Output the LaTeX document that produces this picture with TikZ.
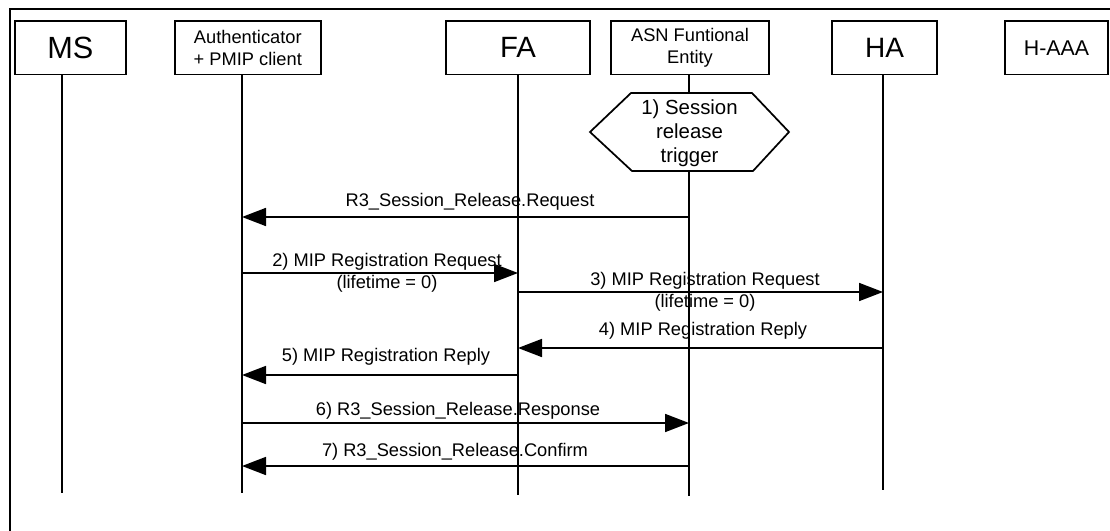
\documentclass[tikz,border=0pt]{standalone}
\usepackage{fontspec}
\setmainfont{Liberation Sans}
\usetikzlibrary{arrows.meta}
\begin{document}
\begin{tikzpicture}[x=0.75pt,y=-0.75pt, line width=1.3pt,
  box/.style={draw, inner sep=0pt, outer sep=0pt, minimum height=40pt, align=center},
  small/.style={font=\fontsize{13.7pt}{16.5pt}\selectfont},
  lbl/.style={font=\fontsize{13.7pt}{16.5pt}\selectfont, inner sep=0pt, anchor=base},
  lbl2/.style={font=\fontsize{13.7pt}{16.5pt}\selectfont, inner sep=0pt, align=center},
  msg/.style={-{Triangle[length=18pt,width=13.5pt]}}]
\useasboundingbox (0,0) rectangle (1110,531);
% frame
\coordinate (frTR) at (1112,9);
\coordinate (frTL) at (10,9);
\coordinate (frBL) at (10,533);
\draw (frTR) -- (frTL) -- (frBL);
% entity boxes
\node[box, minimum width=83pt, font=\fontsize{23pt}{27pt}\selectfont] (ms) at (70.3,47.75) {MS};
\node[box, small, minimum width=109.3pt] (auth) at (247.8,47.75) {Authenticator\\+ PMIP client};
\node[box, minimum width=108pt, font=\fontsize{22pt}{26pt}\selectfont] (fa) at (518,47.75) {FA};
\node[box, small, minimum width=118.5pt] (asn) at (690,47.75) {ASN Funtional\\Entity};
\node[box, minimum width=78.75pt, font=\fontsize{21pt}{25pt}\selectfont] (ha) at (884.5,47.75) {HA};
\node[box, minimum width=77.25pt, font=\fontsize{16pt}{19pt}\selectfont] (haaa) at (1056.5,47.75) {H-AAA};
% lifeline ends
\coordinate (msE) at (62,493);
\coordinate (authE) at (242,493);
\coordinate (faE) at (518,495);
\coordinate (asnE) at (689,496);
\coordinate (haE) at (883,490);
% hexagon
\coordinate (hxT) at (689,93);
\coordinate (hxB) at (689,171);
\draw (590,132) -- (631,93) -- (752,93) -- (789,132) -- (753,171) -- (632,171) -- cycle;
\node[font=\fontsize{15.3pt}{18pt}\selectfont, align=center, inner sep=0pt] (trig) at (689.5,133.6) {1) Session\\release\\trigger};
% lifelines
\draw (ms.south -| msE) -- (msE);
\draw (auth.south -| authE) -- (authE);
\draw (fa.south -| faE) -- (faE);
\draw (asn.south -| hxT) -- (hxT);
\draw (hxB) -- (asnE);
\draw (ha.south -| haE) -- (haE);
% message levels
\coordinate (y1) at (0,217);
\coordinate (y2) at (0,273);
\coordinate (y3) at (0,292);
\coordinate (y4) at (0,348);
\coordinate (y5) at (0,375);
\coordinate (y6) at (0,423);
\coordinate (y7) at (0,466);
% messages
\draw[msg] (asnE |- y1) -- (authE |- y1);
\draw[msg] (authE |- y2) -- (faE |- y2);
\draw[msg] (faE |- y3) -- (haE |- y3);
\draw[msg] (haE |- y4) -- (faE |- y4);
\draw[msg] (faE |- y5) -- (authE |- y5);
\draw[msg] (authE |- y6) -- (asnE |- y6);
\draw[msg] (asnE |- y7) -- (authE |- y7);
% labels
\node[lbl] (l1) at (470,207) {R3\_Session\_Release.Request};
\node[lbl2] (l2) at (387,273.2) {2) MIP Registration Request\\(lifetime = 0)};
\node[lbl2] (l3) at (705,292.2) {3) MIP Registration Request\\(lifetime = 0)};
\node[lbl] (l4) at (703,335) {4) MIP Registration Reply};
\node[lbl] (l5) at (386,361) {5) MIP Registration Reply};
\node[lbl] (l6) at (458,415) {6) R3\_Session\_Release.Response};
\node[lbl] (l7) at (455,456) {7) R3\_Session\_Release.Confirm};
\end{tikzpicture}
\end{document}
